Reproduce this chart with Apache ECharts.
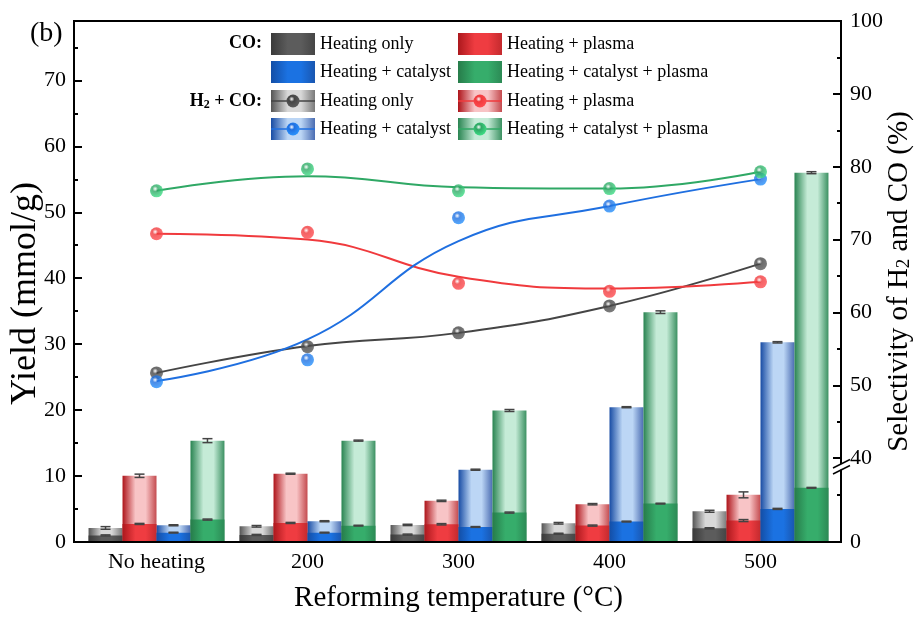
<!DOCTYPE html>
<html>
<head>
<meta charset="utf-8">
<script src="https://cdn.jsdelivr.net/npm/echarts@6/dist/echarts.min.js"></script>
<style>
  html, body { margin: 0; padding: 0; background: #fff; }
  #chart { width: 922px; height: 617px; }
</style>
</head>
<body>
<div id="chart"></div>
<script>
// categories
var categories = ['No heating', '200', '300', '400', '500'];

// CO yield (mmol/g)
var coHeat = [1.0, 1.07, 1.12, 1.25, 2.08];
var coPlasma = [2.74, 2.89, 2.69, 2.49, 3.25];
var coCat = [1.42, 1.42, 2.28, 3.1, 5.02];
var coCatPlasma = [3.4, 2.48, 4.46, 5.82, 8.22];

// H2 + CO yield (mmol/g)
var totHeat = [2.13, 2.38, 2.59, 2.84, 4.66];
var totPlasma = [10.04, 10.35, 6.24, 5.73, 7.15];
var totCat = [2.54, 3.15, 10.96, 20.44, 30.28];
var totCatPlasma = [15.37, 15.37, 19.94, 34.85, 56.0];

// error bars
var errTot = [[0.2, 0.12, 0.1, 0.12, 0.15], [0.25, 0.08, 0.1, 0.1, 0.45], [0.08, 0.08, 0.08, 0.08, 0.1], [0.3, 0.08, 0.15, 0.2, 0.15]];
var errCo = [[0.08, 0.08, 0.08, 0.08, 0.08], [0.08, 0.08, 0.1, 0.08, 0.15], [0.06, 0.06, 0.06, 0.06, 0.08], [0.08, 0.06, 0.08, 0.06, 0.06]];

// selectivity of H2 and CO (%), measured points
var selHeat = [51.7, 55.3, 57.2, 60.9, 66.7];
var selPlasma = [70.8, 71.0, 64.0, 62.9, 64.2];
var selCat = [50.5, 53.5, 73.0, 74.6, 78.3];
var selCatPlasma = [76.7, 79.7, 76.7, 77.0, 79.3];

// fitted curves read at each category
var fitHeat = [51.7, 55.4, 57.2, 60.9, 66.7];
var fitPlasma = [70.8, 70.0, 64.9, 63.3, 64.2];
var fitCat = [50.6, 56.3, 69.8, 74.6, 78.3];
var fitCatPlasma = [76.7, 78.7, 77.2, 77.0, 79.3];

var leftLabels = [0, 10, 20, 30, 40, 50, 60, 70];
var rightLabels = [28.5, 40, 50, 60, 70, 80, 90, 100];

var F = '"Liberation Serif", "Times New Roman", serif';

var names = ['Heating only', 'Heating + plasma', 'Heating + catalyst', 'Heating + catalyst + plasma'];
var lineColors = ['#454545', '#f03a3d', '#1f6fe0', '#2fa865'];
var coShades = [['#3a3a3a', '#5c5c5c', '#454545'], ['#ac181d', '#ef3c41', '#c42a2e'], ['#134ea6', '#1b72e2', '#1956b0'], ['#277c4a', '#36ad6b', '#2c8a55']];
var totShades = [['#555555', '#d8d8d8', '#7a7a7a'], ['#ae141a', '#f8c4c6', '#c44b4f'], ['#184ca4', '#bcd6f5', '#4b6db2'], ['#298451', '#c5ebd7', '#3c9162']];

function cyl(s) {
  return new echarts.graphic.LinearGradient(0, 0, 1, 0, [
    { offset: 0, color: s[0] },
    { offset: 0.38, color: s[1] },
    { offset: 0.68, color: s[1] },
    { offset: 1, color: s[2] }
  ]);
}

function sphere(c) {
  return new echarts.graphic.RadialGradient(0.4, 0.35, 0.7, [
    { offset: 0, color: '#ffffff' },
    { offset: 0.3, color: c },
    { offset: 1, color: echarts.color.lift(c, -0.35) }
  ]);
}

var tots = [totHeat, totPlasma, totCat, totCatPlasma];
var cos = [coHeat, coPlasma, coCat, coCatPlasma];
var sels = [selHeat, selPlasma, selCat, selCatPlasma];
var fits = [fitHeat, fitPlasma, fitCat, fitCatPlasma];

var series = [];
tots.forEach(function (d, k) {
  series.push({
    name: 'tot' + k, type: 'bar', xAxisIndex: 0, yAxisIndex: 0, data: d,
    barGap: '0%', barCategoryGap: '10%', z: 2,
    itemStyle: { color: cyl(totShades[k]) }
  });
});
cos.forEach(function (d, k) {
  series.push({
    name: 'co' + k, type: 'bar', xAxisIndex: 1, yAxisIndex: 0, data: d,
    barGap: '0%', barCategoryGap: '10%', z: 3,
    itemStyle: { color: cyl(coShades[k]) }
  });
});

// error bars
var errData = [];
for (var k = 0; k < 4; k++) {
  for (var i = 0; i < categories.length; i++) {
    errData.push([i, k, tots[k][i], errTot[k][i]]);
    errData.push([i, k, cos[k][i], errCo[k][i]]);
  }
}
series.push({
  type: 'custom', xAxisIndex: 0, yAxisIndex: 0, z: 4,
  encode: { x: 0, y: 2 },
  data: errData,
  renderItem: function (params, api) {
    var i = api.value(0), k = api.value(1), v = api.value(2), e = api.value(3);
    var bw = api.size([1, 0])[0] * 0.9 / 4;
    var xc = api.coord([i, v])[0] + (k - 1.5) * bw;
    var yt = api.coord([i, v + e])[1];
    var yb = api.coord([i, v - e])[1];
    var st = { stroke: '#444', lineWidth: 1.5 };
    return {
      type: 'group',
      children: [
        { type: 'line', shape: { x1: xc, y1: yt, x2: xc, y2: yb }, style: st },
        { type: 'line', shape: { x1: xc - 5, y1: yt, x2: xc + 5, y2: yt }, style: st },
        { type: 'line', shape: { x1: xc - 5, y1: yb, x2: xc + 5, y2: yb }, style: st }
      ]
    };
  }
});

fits.forEach(function (d, k) {
  series.push({
    type: 'line', xAxisIndex: 0, yAxisIndex: 1, data: d, smooth: 0.45,
    showSymbol: false, z: 5,
    lineStyle: { color: lineColors[k], width: 2 }
  });
});
sels.forEach(function (d, k) {
  series.push({
    type: 'scatter', xAxisIndex: 0, yAxisIndex: 1, data: d, symbolSize: 13, z: 6,
    itemStyle: { color: sphere(lineColors[k]) }
  });
});

// legend drawn by hand
var legend = [];
var colX = [271, 458];
var textX = [320, 507];
var rowY = [33, 61, 90, 118];
legend.push({
  type: 'text', style: { text: 'CO:', x: 262, y: 43.5, align: 'right', verticalAlign: 'middle', font: 'bold 18px ' + F, fill: '#000' }
});
legend.push({
  type: 'text', style: {
    text: '{b|H}{s|2}{b| + CO:}', x: 262, y: 101, align: 'right', verticalAlign: 'middle',
    rich: {
      b: { fontSize: 18, fontWeight: 'bold', fontFamily: F, fill: '#000' },
      s: { fontSize: 12, fontWeight: 'bold', fontFamily: F, fill: '#000', verticalAlign: 'bottom', padding: [8, 0, 0, 0] }
    }
  }
});
for (var k2 = 0; k2 < 4; k2++) {
  var col = k2 % 2, row = Math.floor(k2 / 2);
  // CO swatch
  legend.push({ type: 'rect', shape: { x: colX[col], y: rowY[row], width: 44, height: 22 }, style: { fill: cyl(coShades[k2]) } });
  legend.push({ type: 'text', style: { text: names[k2], x: textX[col], y: rowY[row] + 11, verticalAlign: 'middle', font: '18px ' + F, fill: '#000' } });
  // H2 + CO swatch
  var ry = rowY[row + 2];
  legend.push({ type: 'rect', shape: { x: colX[col], y: ry, width: 44, height: 22 }, style: { fill: cyl(totShades[k2]) } });
  legend.push({ type: 'line', shape: { x1: colX[col], y1: ry + 11, x2: colX[col] + 44, y2: ry + 11 }, style: { stroke: lineColors[k2], lineWidth: 1.5 } });
  legend.push({ type: 'circle', shape: { cx: colX[col] + 22, cy: ry + 11, r: 6.5 }, style: { fill: sphere(lineColors[k2]) } });
  legend.push({ type: 'text', style: { text: names[k2], x: textX[col], y: ry + 11, verticalAlign: 'middle', font: '18px ' + F, fill: '#000' } });
}

var graphics = [
  // top and bottom frame lines
  { type: 'line', z: 100, shape: { x1: 73, y1: 21, x2: 842, y2: 21 }, style: { stroke: '#000', lineWidth: 2 } },
  { type: 'line', z: 100, shape: { x1: 73, y1: 542, x2: 842, y2: 542 }, style: { stroke: '#000', lineWidth: 2 } },
  // axis break on the right axis
  { type: 'polygon', z: 101, shape: { points: [[834, 468], [849, 460], [849, 465], [834, 473]] }, style: { fill: '#fff' } },
  { type: 'line', z: 102, shape: { x1: 833, y1: 468, x2: 850, y2: 459.5 }, style: { stroke: '#000', lineWidth: 1.5 } },
  { type: 'line', z: 102, shape: { x1: 833, y1: 474, x2: 850, y2: 465.5 }, style: { stroke: '#000', lineWidth: 1.5 } },
  { type: 'text', z: 100, style: { text: '(b)', x: 30, y: 34, verticalAlign: 'middle', font: '28px ' + F, fill: '#000' } }
].concat(legend);

var labelStyle = { fontSize: 22, color: '#000', fontFamily: F };
var axisLineStyle = { show: true, lineStyle: { color: '#000', width: 2 } };

var option = {
  animation: false,
  grid: [
    // data area (category centres)
    { left: 81, right: 86, top: 21, bottom: 75, outerBoundsMode: 'none' },
    // frame with the visible y axes
    { left: 74, right: 81, top: 21, bottom: 75, outerBoundsMode: 'none' }
  ],
  xAxis: [
    {
      type: 'category', gridIndex: 0, data: categories,
      axisLine: { show: false }, axisTick: { show: false },
      axisLabel: Object.assign({ margin: 9 }, labelStyle),
      name: 'Reforming temperature (°C)', nameLocation: 'middle', nameGap: 42,
      nameTextStyle: { fontSize: 29, color: '#000', fontFamily: F }
    },
    { type: 'category', gridIndex: 0, data: categories, show: false },
    { type: 'value', gridIndex: 1, min: 0, max: 1, show: false }
  ],
  yAxis: [
    { type: 'value', gridIndex: 0, min: 0, max: 79, show: false, splitLine: { show: false } },
    { type: 'value', gridIndex: 0, min: 28.5, max: 100, show: false, splitLine: { show: false } },
    {
      type: 'value', gridIndex: 1, position: 'left', min: 0, max: 79,
      splitLine: { show: false }, axisLine: axisLineStyle,
      axisTick: { show: true, inside: true, length: 8, customValues: leftLabels, lineStyle: { color: '#000', width: 2 } },
      axisLabel: Object.assign({ customValues: leftLabels, margin: 8 }, labelStyle),
      name: 'Yield (mmol/g)', nameLocation: 'middle', nameGap: 30, nameRotate: 90, nameMoveOverlap: false,
      nameTextStyle: { fontSize: 36, color: '#000', fontFamily: F, padding: [0, 24, 0, 0] }
    },
    {
      type: 'value', gridIndex: 1, position: 'right', min: 28.5, max: 100,
      splitLine: { show: false }, axisLine: axisLineStyle,
      axisTick: { show: true, inside: true, length: 8, customValues: rightLabels.slice(1), lineStyle: { color: '#000', width: 2 } },
      axisLabel: Object.assign({
        customValues: rightLabels, margin: 9,
        formatter: function (v) { return v === 28.5 ? '0' : String(v); }
      }, labelStyle),
      name: 'Selectivity of H{s|2} and CO (%)', nameLocation: 'middle', nameGap: 44, nameRotate: 90, nameMoveOverlap: false,
      nameTextStyle: {
        fontSize: 29, color: '#000', fontFamily: F,
        rich: { s: { fontSize: 19, color: '#000', fontFamily: F, verticalAlign: 'bottom', padding: [10, 0, 0, 0] } }
      }
    },
    {
      type: 'value', gridIndex: 1, position: 'left', min: 0, max: 79,
      splitLine: { show: false }, axisLine: { show: false }, axisLabel: { show: false },
      axisTick: { show: true, inside: true, length: 4, customValues: [5, 15, 25, 35, 45, 55, 65, 75], lineStyle: { color: '#000', width: 2 } }
    },
    {
      type: 'value', gridIndex: 1, position: 'right', min: 28.5, max: 100,
      splitLine: { show: false }, axisLine: { show: false }, axisLabel: { show: false },
      axisTick: { show: true, inside: true, length: 4, customValues: [35, 45, 55, 65, 75, 85, 95], lineStyle: { color: '#000', width: 2 } }
    }
  ],
  graphic: graphics,
  series: series
};

var chart = echarts.init(document.getElementById('chart'));
chart.setOption(option);
</script>
</body>
</html>
